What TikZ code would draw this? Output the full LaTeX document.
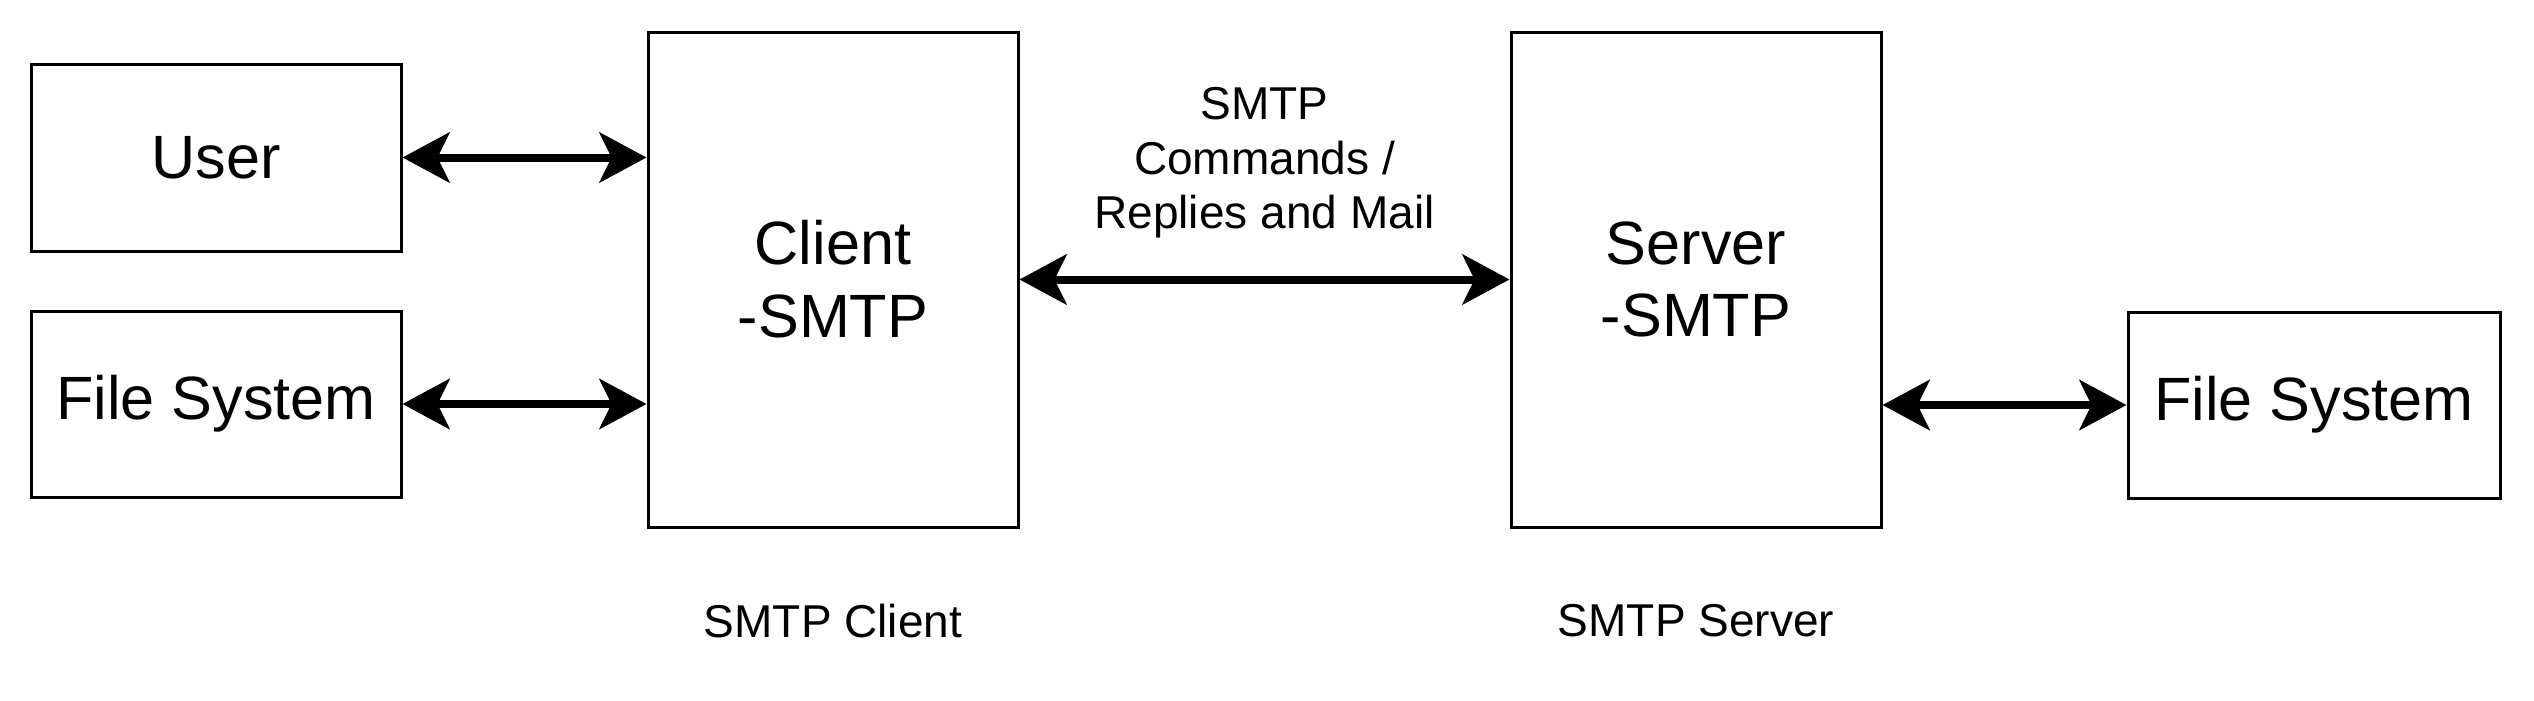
\documentclass[tikz,border=0pt]{standalone}
\usepackage{fontspec}
\setmainfont{Liberation Sans}
\usepackage{tikz}
\usetikzlibrary{positioning,arrows.meta}

\begin{document}
\begin{tikzpicture}[
    box/.style={draw, line width=0.03cm, minimum width=3.70cm, inner sep=0pt, align=center,
        font=\fontsize{17.4}{20.7}\selectfont},
    note/.style={inner sep=0pt, align=center, font=\fontsize{13.1}{15.6}\selectfont},
    link/.style={line width=0.08cm, {Stealth[length=0.47cm, width=0.5cm, inset=0.12cm]}-{Stealth[length=0.47cm, width=0.5cm, inset=0.12cm]}}
]
    \useasboundingbox (0,0) rectangle (25.34,7);

    % Client side
    \node[box, minimum height=1.87cm] (user) at (2.16,5.425) {User};
    \node[box, minimum height=1.86cm] (fsl) at (2.16,2.96) {File System};
    \node[box, minimum height=4.95cm] (client) at (8.33,4.205) {Client\\-SMTP};

    % Server side
    \node[box, minimum height=4.95cm] (server) at (16.96,4.205) {Server\\-SMTP};
    \node[box, minimum height=1.86cm, minimum width=3.72cm] (fsr) at (23.14,2.95) {File System};

    % Captions
    \node[note, below=0.75cm of client] (clientcap) {SMTP Client};
    \node[note, below=0.75cm of server] (servercap) {SMTP Server};

    % Connections
    \draw[link] (user.east) -- (user.east -| client.west);
    \draw[link] (fsl.east) -- (fsl.east -| client.west);
    \draw[link] (client.east) -- (server.west)
        node[note, midway, above=0.37cm] (msg) {SMTP\\Commands /\\Replies and Mail};
    \draw[link] (server.east |- fsr.west) -- (fsr.west);
\end{tikzpicture}
\end{document}
